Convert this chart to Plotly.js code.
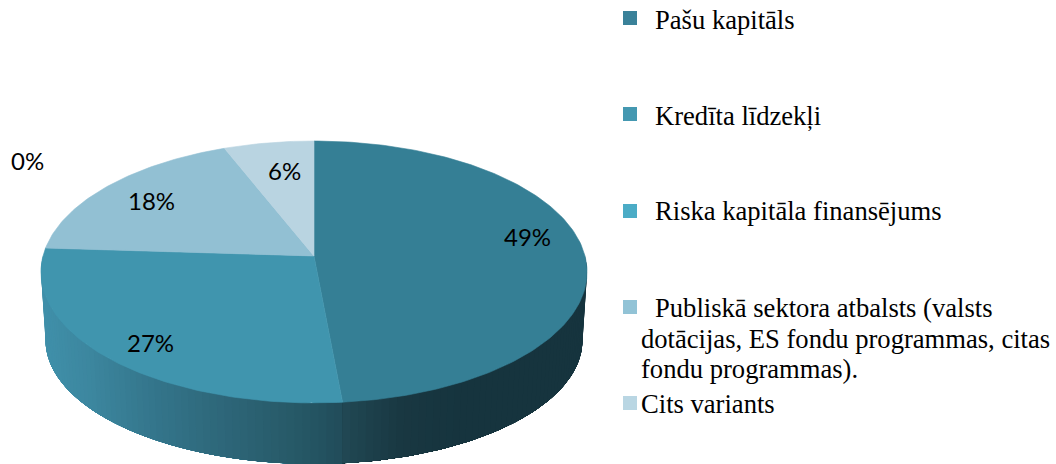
<!DOCTYPE html>
<html>
<head>
<meta charset="utf-8">
<script src="https://cdn.plot.ly/plotly-3.0.1.min.js"></script>
<style>html,body{margin:0;padding:0;background:#fff}#chart{width:1056px;height:464px}</style>
</head>
<body>
<div id="chart"></div>
<script>
const categories = ['Pašu kapitāls', 'Kredīta līdzekļi', 'Riska kapitāla finansējums',
  'Publiskā sektora atbalsts (valsts dotācijas, ES fondu programmas, citas fondu programmas).', 'Cits variants'];
const shares = [48.5, 27.45, 0, 18, 6];

// Style
const topColors = ['#357f95', '#4095ae', '#4bacc6', '#92c0d3', '#b9d4e1'];
const legendColors = ['#3a8199', '#4498b1', '#4bacc6', '#92c3d6', '#b9d6e3'];
const wallStops = [
  [[343, [33, 72, 84]], [400, [25, 56, 66]], [460, [22, 52, 62]], [590, [22, 52, 62]]],
  [[40, [64, 144, 170]], [90, [60, 134, 158]], [150, [52, 118, 140]], [230, [45, 101, 119]], [300, [38, 88, 102]], [343, [33, 76, 90]]]
];
// Perspective projection of the pie's disc onto the page (page pixels on the hidden axes)
const cx = 314, k = 0.122;
const topDisc = {a: 271, y0: 256, b: 129};
const baseDisc = {a: 266.5, y0: 325, b: 122};
const project = (d, deg) => {
  const t = deg * Math.PI / 180, w = 1 + k * Math.cos(t);
  return [cx + d.a * Math.sin(t) / w, d.y0 - d.b * Math.cos(t) / w];
};
const wallColor = (stops, x) => {
  if (x <= stops[0][0]) return 'rgb(' + stops[0][1].join(',') + ')';
  for (let i = 1; i < stops.length; i++) {
    if (x <= stops[i][0]) {
      const f = (x - stops[i - 1][0]) / (stops[i][0] - stops[i - 1][0]);
      const c = stops[i][1].map((v, j) => Math.round(stops[i - 1][1][j] + (v - stops[i - 1][1][j]) * f));
      return 'rgb(' + c.join(',') + ')';
    }
  }
  return 'rgb(' + stops[stops.length - 1][1].join(',') + ')';
};

const total = shares.reduce((a, b) => a + b, 0);
let acc = 0;
const spans = shares.map(v => { const s = acc; acc += v / total * 360; return [s, acc]; });
const traces = [];
const poly = (xs, ys, color, width) => traces.push({
  type: 'scatter', mode: 'lines', x: xs, y: ys, fill: 'toself', fillcolor: color,
  line: {color: color, width: width}, hoverinfo: 'skip', showlegend: false
});

// Side wall: each band reaches to the end of its slice and the next band paints over it,
// so no seams show. The left slice is painted from the far left towards the front.
[1, 0].forEach(i => {
  const lo = Math.max(spans[i][0], 90), hi = Math.min(spans[i][1], 270);
  const n = Math.ceil((hi - lo) / 1.5);
  for (let j = 0; j < n; j++) {
    const xs = [], ys = [];
    const start = i === 0 ? lo + (hi - lo) * j / n : lo;
    const end = i === 0 ? hi : hi - (hi - lo) * j / n;
    const arc = Math.ceil(end - start) + 1;
    for (let m = 0; m <= arc; m++) { const p = project(topDisc, start + (end - start) * m / arc); xs.push(p[0]); ys.push(p[1]); }
    for (let m = arc; m >= 0; m--) { const p = project(baseDisc, start + (end - start) * m / arc); xs.push(p[0]); ys.push(p[1]); }
    xs.push(xs[0]); ys.push(ys[0]);
    const bandEdge = i === 0 ? start + (hi - lo) / n / 2 : end - (hi - lo) / n / 2;
    poly(xs, ys, wallColor(wallStops[i], project(topDisc, bandEdge)[0]), 0);
  }
});
// Top face
spans.forEach((s, i) => {
  if (s[1] - s[0] <= 0) return;
  const xs = [cx], ys = [topDisc.y0];
  const n = Math.ceil((s[1] - s[0]) / 1);
  for (let j = 0; j <= n; j++) {
    const p = project(topDisc, s[0] + (s[1] - s[0]) * j / n);
    xs.push(p[0]); ys.push(p[1]);
  }
  xs.push(cx); ys.push(topDisc.y0);
  poly(xs, ys, topColors[i], 0.6);
});

const labelPos = [[527, 236], [150, 342], [27, 160], [151, 200], [284, 170]];
const annotations = shares.map((v, i) => ({
  text: Math.round(v) + '%', x: labelPos[i][0], y: labelPos[i][1], xref: 'x', yref: 'y',
  showarrow: false, xanchor: 'center', yanchor: 'middle',
  font: {family: 'Lato', size: 24, color: '#000'}
}));
const legendLines = [
  ['Pašu kapitāls', 653, 20], ['Kredīta līdzekļi', 653, 116], ['Riska kapitāla finansējums', 653, 211],
  ['Publiskā sektora atbalsts (valsts', 653, 308], ['dotācijas, ES fondu programmas, citas', 639, 339],
  ['fondu programmas).', 639, 369], ['Cits variants', 639, 404]
];
legendLines.forEach(l => annotations.push({
  text: l[0], x: l[1], y: l[2], xref: 'x', yref: 'y', showarrow: false, xanchor: 'left', yanchor: 'middle',
  font: {family: 'Liberation Serif', size: 26.6, color: '#000'}
}));
const legendY = [11, 107, 204, 300, 396];
const shapes = legendY.map((y, i) => ({
  type: 'rect', xref: 'x', yref: 'y', x0: 623, x1: 637, y0: y, y1: y + 14,
  fillcolor: legendColors[i], line: {width: 0}
}));

Plotly.newPlot('chart', traces, {
  width: 1056, height: 464, margin: {l: 0, r: 0, t: 0, b: 0},
  paper_bgcolor: '#fff', plot_bgcolor: '#fff', showlegend: false,
  xaxis: {range: [0, 1056], visible: false, fixedrange: true},
  yaxis: {range: [464, 0], visible: false, fixedrange: true},
  annotations, shapes
}, {displayModeBar: false, staticPlot: true});
</script>
</body>
</html>
